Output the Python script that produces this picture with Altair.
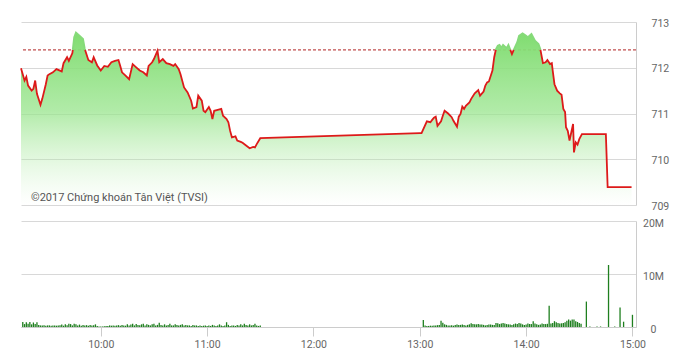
import altair as alt
import pandas as pd

# ---------------- data ----------------
PRICE_TIMES = [
    "09:15", "09:17", "09:18", "09:19", "09:21", "09:22", "09:23", "09:24", "09:26", "09:27",
    "09:29", "09:30", "09:31", "09:33", "09:35", "09:38", "09:39", "09:41", "09:42", "09:44",
    "09:45", "09:46", "09:48", "09:50", "09:51", "09:53", "09:55", "09:56", "09:58", "10:00",
    "10:02", "10:04", "10:06", "10:08", "10:10", "10:11", "10:12", "10:14", "10:16", "10:18",
    "10:20", "10:22", "10:24", "10:26", "10:27", "10:29", "10:30", "10:32", "10:33", "10:35",
    "10:37", "10:39", "10:41", "10:42", "10:44", "10:45", "10:47", "10:49", "10:51", "10:52",
    "10:54", "10:55", "10:57", "10:58", "10:59", "11:01", "11:02", "11:03", "11:04", "11:06",
    "11:08", "11:09", "11:11", "11:12", "11:13", "11:14", "11:16", "11:17", "11:19", "11:20",
    "11:22", "11:24", "11:26", "11:27", "11:28", "11:30",
    "13:00", "13:01", "13:04", "13:06", "13:07", "13:08", "13:09", "13:10", "13:12", "13:13",
    "13:14", "13:16", "13:18", "13:19", "13:21", "13:22", "13:23", "13:24", "13:25", "13:26",
    "13:28", "13:29", "13:31", "13:33", "13:34", "13:36", "13:37", "13:38", "13:39", "13:41",
    "13:42", "13:43", "13:44", "13:45", "13:46", "13:47", "13:49", "13:50", "13:52", "13:53",
    "13:55", "13:56", "13:58", "14:00", "14:01", "14:03", "14:05", "14:07", "14:08", "14:09:30",
    "14:11", "14:12", "14:13:30", "14:14:30", "14:15", "14:16", "14:17:30", "14:19", "14:20", "14:21",
    "14:22", "14:22:30", "14:23:30", "14:24:30", "14:25:30", "14:26:30", "14:27", "14:28", "14:29", "14:30",
    "14:31:30", "14:45", "14:46", "14:59:30",
]
PRICE_VALUES = [
    711.99, 711.72, 711.80, 711.61, 711.50, 711.54, 711.72, 711.43, 711.19, 711.32,
    711.64, 711.83, 711.86, 711.90, 711.97, 711.92, 712.10, 712.23, 712.15, 712.32,
    712.67, 712.77, 712.70, 712.63, 712.41, 712.17, 712.12, 712.23, 712.05, 711.94,
    712.04, 712.02, 712.12, 712.15, 712.17, 712.04, 711.90, 711.83, 711.75, 712.08,
    712.01, 711.94, 711.90, 711.83, 712.04, 712.12, 712.19, 712.37, 712.12, 712.19,
    712.10, 712.08, 712.04, 712.08, 711.97, 711.86, 711.57, 711.46, 711.28, 711.11,
    711.14, 711.39, 711.28, 711.06, 711.03, 711.14, 711.06, 710.88, 711.06, 711.08,
    711.10, 710.95, 710.88, 710.81, 710.62, 710.48, 710.50, 710.41, 710.38, 710.36,
    710.30, 710.24, 710.27, 710.26, 710.33, 710.46,
    710.57, 710.57, 710.83, 710.81, 710.86, 710.91, 710.93, 710.73, 710.83, 710.95,
    711.06, 711.00, 710.92, 710.84, 710.71, 710.93, 710.99, 711.15, 711.10, 711.17,
    711.24, 711.32, 711.44, 711.51, 711.39, 711.48, 711.61, 711.68, 711.70, 711.94,
    712.23, 712.41, 712.48, 712.50, 712.44, 712.50, 712.43, 712.50, 712.30, 712.39,
    712.56, 712.70, 712.75, 712.70, 712.67, 712.74, 712.59, 712.52, 712.41, 712.10,
    712.12, 712.17, 712.08, 712.10, 711.94, 711.64, 711.50, 711.44, 711.41, 711.10,
    711.03, 710.70, 710.62, 710.41, 710.59, 710.77, 710.15, 710.37, 710.32, 710.44,
    710.55, 710.55, 709.39, 709.39,
]
REF_PRICE = 712.39
PRICE_TICKS = [709, 710, 711, 712, 713]

# volumes in millions, one bar per minute
MORNING_VOL_START = "09:16"
MORNING_VOL = [
    0.95, 0.55, 0.9, 0.6, 0.95, 0.5, 0.85, 0.55, 0.9, 0.4,
    0.3, 0.3, 0.35, 0.25, 0.3, 0.3, 0.25, 0.3, 0.3, 0.25,
    0.3, 0.35, 0.45, 0.25, 0.5, 0.35, 0.6, 0.55, 0.3, 0.6,
    0.5, 0.3, 0.45, 0.25, 0.4, 0.3, 0.35, 0.25, 0.4, 0.3,
    0.35, 0.5, 0.2, 0.1, 0.1, 0.1, 0.15, 0.2, 0.2, 0.3,
    0.25, 0.3, 0.25, 0.3, 0.35, 0.25, 0.4, 0.3, 0.25, 0.5,
    0.3, 0.45, 0.6, 0.3, 0.55, 0.4, 0.35, 0.5, 0.6, 0.3,
    0.5, 0.4, 0.3, 0.5, 0.6, 0.3, 0.4, 0.8, 0.4, 0.3,
    0.5, 0.3, 0.4, 0.6, 0.3, 0.3, 0.5, 0.4, 0.3, 0.4,
    0.5, 0.3, 0.4, 0.3, 0.3, 0.2, 0.4, 0.3, 0.3, 0.2,
    0.3, 0.2, 0.25, 0.3, 0.2, 0.3, 0.2, 0.4, 0.3, 0.2,
    0.3, 0.5, 0.3, 0.2, 0.3, 0.9, 0.4, 0.2, 0.3, 0.3,
    0.2, 0.4, 0.3, 0.5, 0.3, 0.6, 0.4, 0.3, 0.5, 0.3,
    0.4, 0.6, 0.3, 0.2, 0.3,
]
AFTERNOON_VOL_START = "13:02"
AFTERNOON_VOL = [
    1.3, 0.3, 0.2, 0.2, 0.25, 0.25, 0.3, 0.3, 0.35, 0.4,
    1.2, 0.8, 0.5, 0.4, 0.3, 0.3, 0.35, 0.25, 0.4, 0.45,
    0.4, 0.4, 0.45, 0.4, 0.3, 0.4, 0.5, 0.7, 0.55, 0.5,
    0.5, 0.55, 0.45, 0.45, 0.4, 0.3, 0.4, 0.45, 0.45, 0.4,
    0.4, 0.75, 0.7, 0.55, 0.65, 0.75, 0.65, 0.55, 0.5, 0.45,
    0.4, 0.5, 0.65, 0.55, 0.75, 0.65, 0.5, 0.4, 0.45, 0.65,
    0.55, 0.55, 1.1, 0.65, 0.5, 0.4, 0.45, 0.65, 0.55, 0.55,
    0.6, 4.0, 0.65, 0.75, 1.1, 0.9, 0.75, 0.65, 0.7, 0.75,
    0.9, 1.2, 1.4, 1.2, 1.4, 1.4, 1.1, 0.95, 0.75, 0.6,
]
LATE_VOL_TIMES = ["14:34", "14:36", "14:40", "14:42", "14:46:30", "14:50", "14:53", "14:55", "15:00"]
LATE_VOL = [4.8, 0.1, 0.1, 0.1, 11.7, 0.1, 3.7, 1.0, 2.3]
VOL_TICKS = [0, 10, 20]

TIME_TICKS = ["10:00", "11:00", "12:00", "13:00", "14:00", "15:00"]
X_DOMAIN = ["09:15", "15:02"]
WATERMARK = "©2017 Chứng khoán Tân Việt (TVSI)"


def to_min(s):
    parts = [int(p) for p in s.split(":")]
    sec = parts[2] if len(parts) > 2 else 0
    return parts[0] * 60 + parts[1] + sec / 60.0


# ---------------- tables ----------------
price_t = [to_min(s) for s in PRICE_TIMES]
price_df = pd.DataFrame({"t": price_t, "v": PRICE_VALUES})

# line split into zones (red below reference, green above)
rows = []
seg = 0
zone = "up" if PRICE_VALUES[0] > REF_PRICE else "down"
rows.append((price_t[0], PRICE_VALUES[0], seg, zone))
for i in range(1, len(price_t)):
    t0, v0 = price_t[i - 1], PRICE_VALUES[i - 1]
    t1, v1 = price_t[i], PRICE_VALUES[i]
    z1 = "up" if v1 > REF_PRICE else "down"
    if z1 != zone:
        tc = t0 + (REF_PRICE - v0) / (v1 - v0) * (t1 - t0)
        rows.append((tc, REF_PRICE, seg, zone))
        seg += 1
        rows.append((tc, REF_PRICE, seg, z1))
        zone = z1
    rows.append((t1, v1, seg, z1))
line_df = pd.DataFrame(rows, columns=["t", "v", "seg", "zone"])

ref_df = pd.DataFrame({"v": [REF_PRICE]})
text_df = pd.DataFrame({"txt": [WATERMARK]})

m0 = to_min(MORNING_VOL_START)
a0 = to_min(AFTERNOON_VOL_START)
vol_t = [m0 + i for i in range(len(MORNING_VOL))] + [a0 + i for i in range(len(AFTERNOON_VOL))] + [to_min(s) for s in LATE_VOL_TIMES]
vol_v = MORNING_VOL + AFTERNOON_VOL + LATE_VOL
vol_df = pd.DataFrame({"t": vol_t, "vol": vol_v})

# ---------------- styling ----------------
FONT = "Liberation Sans Narrow, Arial Narrow, Roboto, sans-serif"
GRID = "#d8d8d8"
LABEL = "#666666"
W = 615

xscale = alt.Scale(domain=[to_min(X_DOMAIN[0]), to_min(X_DOMAIN[1])], nice=False, zero=False, padding=0)
x_top = alt.X("t:Q", scale=xscale, axis=None)

y_top = alt.Y(
    "v:Q",
    scale=alt.Scale(domain=[PRICE_TICKS[0], PRICE_TICKS[-1]], nice=False, zero=False),
    axis=alt.Axis(
        orient="right", values=PRICE_TICKS, grid=True, gridColor=GRID, domain=True,
        domainColor="#cccccc", ticks=False, tickSize=0, labelPadding=15, labelAlign="left",
        labelBaseline="middle", labelOffset=1, labelFont=FONT, labelFontSize=10.5,
        labelColor=LABEL, title=None,
    ),
)

gradient = alt.Gradient(
    gradient="linear",
    stops=[
        alt.GradientStop(color="rgba(128,220,112,1)", offset=0),
        alt.GradientStop(color="rgba(150,228,138,0.75)", offset=0.45),
        alt.GradientStop(color="rgba(200,242,192,0)", offset=1),
    ],
    x1=0, x2=0, y1=0, y2=1,
)

ref_rule = alt.Chart(ref_df).mark_rule(color="#b02020", strokeDash=[3, 2], strokeWidth=1).encode(y=y_top)

area = alt.Chart(price_df).mark_area(color=gradient, interpolate="linear").encode(
    x=x_top, y=y_top, y2=alt.datum(PRICE_TICKS[0])
)

line = alt.Chart(line_df).mark_line(strokeWidth=1.8, interpolate="linear").encode(
    x=x_top,
    y=y_top,
    detail="seg:N",
    color=alt.Color("zone:N", scale=alt.Scale(domain=["down", "up"], range=["#dd1a1a", "#86da7a"]), legend=None),
    order="t:Q",
)

text = alt.Chart(text_df).mark_text(
    align="left", baseline="alphabetic", font=FONT, fontSize=11, color="#555555"
).encode(text="txt:N", x=alt.value(10), y=alt.value(179))

top = alt.layer(ref_rule, area, line, text).properties(width=W, height=183)

x_bot = alt.X(
    "t:Q",
    scale=xscale,
    axis=alt.Axis(
        values=[to_min(s) for s in TIME_TICKS],
        labelExpr="floor(datum.value/60) + ':' + (datum.value % 60 < 10 ? '0' : '') + (datum.value % 60)",
        grid=False, domain=True, domainColor="#cccccc", ticks=True, tickColor="#cccccc",
        tickSize=9, labelPadding=3, labelFont=FONT, labelFontSize=10.5, labelColor=LABEL,
        title=None,
    ),
)
y_bot = alt.Y(
    "vol:Q",
    scale=alt.Scale(domain=[VOL_TICKS[0], VOL_TICKS[-1]], nice=False),
    axis=alt.Axis(
        orient="right", values=VOL_TICKS, grid=True, gridColor=GRID, domain=True,
        domainColor="#cccccc", ticks=False, tickSize=0, labelPadding=17, labelAlign="center",
        labelBaseline="middle", labelOffset=2, labelFont=FONT, labelFontSize=10.5,
        labelColor=LABEL, title=None,
        labelExpr="datum.value == 0 ? '0' : datum.value + 'M'",
    ),
)

bottom = alt.Chart(vol_df).mark_bar(size=1.3, color="#1f7f1f").encode(x=x_bot, y=y_bot).properties(
    width=W, height=106
)

chart = (
    alt.vconcat(top, bottom, spacing=16, bounds="flush")
    .properties(padding={"left": 17, "top": 18, "right": 5, "bottom": 5}, background="white")
    .configure_view(stroke=None)
)

chart.save("out.html", embed_options={"renderer": "svg", "actions": False})
